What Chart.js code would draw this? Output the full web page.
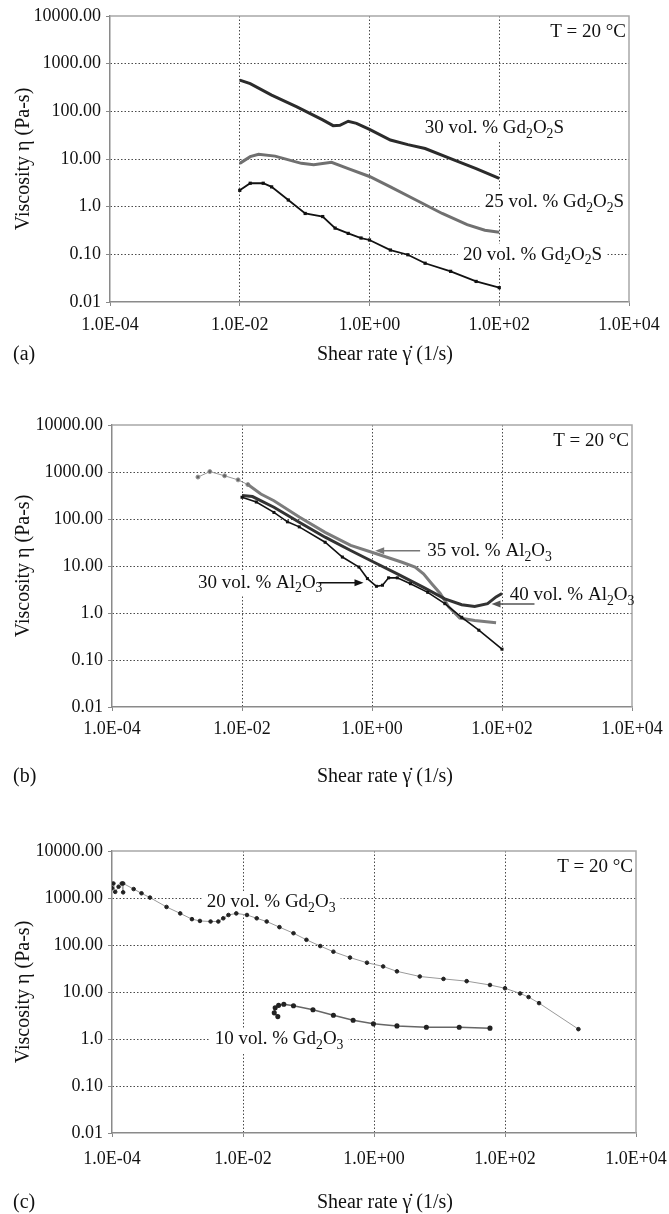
<!DOCTYPE html>
<html>
<head>
<meta charset="utf-8">
<title>Viscosity vs shear rate</title>
<script src="https://cdn.jsdelivr.net/npm/chart.js@4.4.0/dist/chart.umd.min.js"></script>
<style>
    html, body { margin: 0; padding: 0; background: #fff; }
    #page { position: relative; width: 669px; height: 1214px; overflow: hidden; }
    .panel { position: absolute; left: 0; width: 669px; }
</style>
</head>
<body>
<div id="page">
    <div class="panel" style="top:0;height:380px"><canvas id="chartA"></canvas></div>
    <div class="panel" style="top:390px;height:400px"><canvas id="chartB"></canvas></div>
    <div class="panel" style="top:800px;height:414px"><canvas id="chartC"></canvas></div>
</div>
<script>
// Axis ticks (shared by all three panels)
const xTickValues = [1e-4, 1e-2, 1, 1e2, 1e4];
const xTickLabels = ['1.0E-04', '1.0E-02', '1.0E+00', '1.0E+02', '1.0E+04'];
const yTickValues = [0.01, 0.1, 1, 10, 100, 1000, 10000];
const yTickLabels = ['0.01', '0.10', '1.0', '10.00', '100.00', '1000.00', '10000.00'];

// Panel (a) - Gd2O2S, [shear rate, viscosity]
const gd2o2s30 = [[0.01, 450], [0.0145, 380], [0.031, 219], [0.076, 124], [0.19, 66], [0.275, 50],
    [0.35, 51], [0.47, 62], [0.63, 56], [1.0, 42], [2.1, 25], [3.9, 20], [7.2, 16.6], [17.8, 10.2],
    [44, 6.3], [100, 3.9]];
const gd2o2s25 = [[0.01, 8.1], [0.0145, 11.2], [0.0195, 12.6], [0.035, 11.5], [0.089, 8.1], [0.138, 7.6],
    [0.26, 8.5], [0.47, 6.3], [1.0, 4.3], [2.1, 2.6], [5.2, 1.38], [13.2, 0.72], [32, 0.42], [60, 0.32],
    [100, 0.29]];
const gd2o2s20 = [[0.01, 2.2], [0.0145, 3.1], [0.023, 3.1], [0.031, 2.6], [0.056, 1.38], [0.102, 0.72],
    [0.19, 0.62], [0.295, 0.355], [0.47, 0.275], [0.74, 0.22], [1.0, 0.2], [2.1, 0.123], [3.9, 0.098],
    [7.2, 0.065], [17.8, 0.044], [44, 0.027], [100, 0.02]];

// Panel (b) - Al2O3
const al2o3_35start = [[0.0021, 780], [0.0032, 1020], [0.0054, 830], [0.0087, 680], [0.0123, 540]];
const al2o3_35 = [[0.0123, 540], [0.0195, 340], [0.031, 245], [0.076, 110], [0.19, 52], [0.47, 27.5],
    [1.17, 18.2], [2.9, 12], [4.6, 9.5], [6.2, 6.8], [8.3, 4.2], [11.2, 2.6], [15.1, 1.35], [22.4, 0.78],
    [38, 0.69], [81, 0.62]];
const al2o3_40 = [[0.01, 316], [0.0145, 300], [0.031, 178], [0.076, 85], [0.19, 41], [0.47, 21.4],
    [1.0, 12.6], [2.45, 6.8], [6.2, 3.5], [13.2, 2.0], [24, 1.5], [38, 1.38], [60, 1.58], [81, 2.2],
    [100, 2.6]];
const al2o3_30 = [[0.01, 290], [0.0166, 230], [0.031, 138], [0.05, 87], [0.076, 68], [0.19, 32],
    [0.35, 15.5], [0.63, 9.5], [0.85, 5.4], [1.17, 3.7], [1.45, 3.9], [1.8, 5.6], [2.45, 5.6], [3.9, 4.2],
    [7.2, 2.75], [13.2, 1.58], [24, 0.81], [44, 0.43], [100, 0.17]];

// Panel (c) - Gd2O3
const gd2o3_20 = [[0.0001, 1620], [0.000105, 2040], [0.000112, 1350], [0.000126, 1740], [0.000141, 2040],
    [0.000148, 1320], [0.000148, 2040], [0.000214, 1550], [0.000282, 1260], [0.00038, 1020],
    [0.00068, 645], [0.0011, 470], [0.00166, 355], [0.0022, 325], [0.0032, 316], [0.0042, 316],
    [0.005, 370], [0.006, 435], [0.0079, 470], [0.0115, 435], [0.0162, 370], [0.023, 316], [0.036, 240],
    [0.059, 178], [0.093, 129], [0.151, 95], [0.24, 72], [0.43, 54], [0.78, 42], [1.38, 35], [2.24, 27.5],
    [5.0, 21.4], [11.5, 19], [26, 17], [59, 14.1], [100, 12], [170, 9.3], [229, 7.8], [331, 5.8],
    [1320, 1.62]];
const gd2o3_10 = [[0.034, 3.0], [0.03, 3.6], [0.031, 4.6], [0.035, 5.2], [0.042, 5.5], [0.059, 5.1],
    [0.117, 4.2], [0.24, 3.2], [0.48, 2.5], [0.98, 2.1], [2.24, 1.9], [6.3, 1.78], [20, 1.78], [59, 1.7]];

const serif = "'Liberation Serif', 'Times New Roman', serif";

function toXY(arr) {
    return arr.map(p => ({ x: p[0], y: p[1] }));
}

/**
 * Text with one-character subscripts marked by "_" (e.g. "Al_2O_3")
 */
function richParts(str) {
    const parts = [];
    for (let i = 0; i < str.length; i++) {
        if (str[i] === '_') {
            parts.push({ t: str[i + 1], sub: true });
            i++;
        } else {
            parts.push({ t: str[i], sub: false });
        }
    }
    return parts;
}

function richWidth(ctx, str, size) {
    let w = 0;
    richParts(str).forEach(p => {
        ctx.font = (p.sub ? size * 0.72 : size) + 'px ' + serif;
        w += ctx.measureText(p.t).width;
    });
    return w;
}

function drawRich(ctx, str, x, y, size) {
    ctx.textAlign = 'left';
    ctx.textBaseline = 'middle';
    richParts(str).forEach(p => {
        const fs = p.sub ? size * 0.72 : size;
        ctx.font = fs + 'px ' + serif;
        ctx.fillText(p.t, x, p.sub ? y + size * 0.32 : y);
        x += ctx.measureText(p.t).width;
    });
}

/**
 * Frame, curve labels, arrows and titles of one panel
 */
const panelDecor = {
    id: 'panelDecor',
    beforeDatasetsDraw(chart, args, opts) {
        const ctx = chart.ctx;
        const area = chart.chartArea;
        const sx = chart.scales.x, sy = chart.scales.y;
        ctx.save();
        // white boxes behind the labels hide the grid
        ctx.fillStyle = '#fff';
        (opts.labels || []).forEach(l => {
            const x = sx.getPixelForValue(l.x);
            const y = sy.getPixelForValue(l.y);
            ctx.fillRect(x - 5, y - 11, richWidth(ctx, l.text, 19) + 10, 24);
        });
        // top and right side of the frame
        ctx.strokeStyle = '#a8a8a8';
        ctx.lineWidth = 1.5;
        ctx.beginPath();
        ctx.moveTo(area.left, area.top);
        ctx.lineTo(area.right, area.top);
        ctx.lineTo(area.right, area.bottom);
        ctx.stroke();
        ctx.restore();
    },
    afterDraw(chart, args, opts) {
        const ctx = chart.ctx;
        const area = chart.chartArea;
        const sx = chart.scales.x, sy = chart.scales.y;
        ctx.save();
        ctx.fillStyle = '#111';

        (opts.labels || []).forEach(l => {
            drawRich(ctx, l.text, sx.getPixelForValue(l.x), sy.getPixelForValue(l.y), 19);
        });

        (opts.arrows || []).forEach(a => {
            const x1 = sx.getPixelForValue(a.from);
            const x2 = sx.getPixelForValue(a.to);
            const y = sy.getPixelForValue(a.y);
            const dir = x2 > x1 ? 1 : -1;
            ctx.strokeStyle = a.color;
            ctx.fillStyle = a.color;
            ctx.lineWidth = 1.5;
            ctx.beginPath();
            ctx.moveTo(x1, y);
            ctx.lineTo(x2 - dir * 6, y);
            ctx.stroke();
            ctx.beginPath();
            ctx.moveTo(x2, y);
            ctx.lineTo(x2 - dir * 9, y - 3.5);
            ctx.lineTo(x2 - dir * 9, y + 3.5);
            ctx.closePath();
            ctx.fill();
        });

        ctx.fillStyle = '#111';
        ctx.font = '19px ' + serif;
        ctx.textAlign = 'right';
        ctx.textBaseline = 'middle';
        ctx.fillText('T = 20 °C', area.right - 3, area.top + 16);

        // axis titles and panel letter
        ctx.font = '20px ' + serif;
        ctx.textAlign = 'center';
        ctx.fillText('Shear rate \u03B3\u0307 (1/s)', 385, area.bottom + opts.titleOffset);
        ctx.textAlign = 'left';
        ctx.fillText(opts.letter, 13, area.bottom + opts.titleOffset);

        ctx.translate(24, (area.top + area.bottom) / 2);
        ctx.rotate(-Math.PI / 2);
        ctx.textAlign = 'center';
        ctx.fillText('Viscosity \u03B7 (Pa-s)', 0, 0);
        ctx.restore();
    }
};

function gridColor(c) {
    const last = c.scale.ticks.length - 1;
    return (c.index === 0 || c.index === last) ? 'rgba(0,0,0,0)' : '#4a4a4a';
}

function buildChart(id, datasets, layout, decor) {
    const ctx = document.getElementById(id).getContext('2d');
    return new Chart(ctx, {
        type: 'scatter',
        data: { datasets: datasets },
        options: {
            responsive: true,
            maintainAspectRatio: false,
            animation: false,
            events: [],
            layout: { padding: { top: layout.top, right: layout.right, left: 0, bottom: 0 } },
            plugins: {
                legend: { display: false },
                tooltip: { enabled: false },
                panelDecor: decor
            },
            scales: {
                x: {
                    type: 'logarithmic',
                    min: 1e-4,
                    max: 1e4,
                    afterBuildTicks: scale => { scale.ticks = xTickValues.map(v => ({ value: v })); },
                    afterFit: scale => {
                        // fixed plot box: the end labels may hang into the margins
                        scale.height = layout.xHeight;
                        scale.paddingLeft = 0;
                        scale.paddingRight = 0;
                    },
                    ticks: {
                        autoSkip: false,
                        maxRotation: 0,
                        padding: layout.xPad,
                        color: '#111',
                        font: { family: serif, size: 18 },
                        callback: (v, i) => xTickLabels[i]
                    },
                    grid: { color: gridColor, tickColor: '#888', tickLength: 4, lineWidth: 1 },
                    border: { display: true, color: '#8a8a8a', width: 1.5, dash: [1.5, 2] }
                },
                y: {
                    type: 'logarithmic',
                    min: 0.01,
                    max: 10000,
                    afterBuildTicks: scale => { scale.ticks = yTickValues.map(v => ({ value: v })); },
                    afterFit: scale => {
                        scale.width = layout.left;
                        scale.paddingTop = 0;
                        scale.paddingBottom = 0;
                    },
                    ticks: {
                        autoSkip: false,
                        padding: 5,
                        color: '#111',
                        font: { family: serif, size: 18 },
                        callback: (v, i) => yTickLabels[i]
                    },
                    grid: { color: gridColor, tickColor: '#888', tickLength: 4, lineWidth: 1 },
                    border: { display: true, color: '#8a8a8a', width: 1.5, dash: [1.5, 2] }
                }
            }
        },
        plugins: [panelDecor]
    });
}

function series(arr, color, width, extra) {
    return Object.assign({
        data: toXY(arr),
        showLine: true,
        borderColor: color,
        backgroundColor: color,
        borderWidth: width,
        pointRadius: 0,
        tension: 0
    }, extra || {});
}

// (a)
buildChart('chartA', [
    series(gd2o2s30, '#2b2b2b', 3),
    series(gd2o2s25, '#707070', 3),
    series(gd2o2s20, '#111', 1.8, { pointRadius: 1, pointStyle: 'rect' })
], { top: 16, right: 40, left: 110, xHeight: 78, xPad: 8 }, {
    letter: '(a)',
    titleOffset: 53,
    labels: [
        { text: '30 vol. % Gd_2O_2S', x: 7.1, y: 45 },
        { text: '25 vol. % Gd_2O_2S', x: 60, y: 1.26 },
        { text: '20 vol. % Gd_2O_2S', x: 27.5, y: 0.098 }
    ]
});

// (b)
buildChart('chartB', [
    series(al2o3_30, '#111', 1.6, { pointRadius: 1, pointStyle: 'rect' }),
    series(al2o3_40, '#333', 3),
    series(al2o3_35, '#7c7c7c', 3),
    series(al2o3_35start, '#9a9a9a', 1, { pointRadius: 2, backgroundColor: '#666', borderColor: '#999' })
], { top: 35, right: 37, left: 112, xHeight: 83, xPad: 7 }, {
    letter: '(b)',
    titleOffset: 70,
    labels: [
        { text: '35 vol. % Al_2O_3', x: 7.1, y: 21 },
        { text: '30 vol. % Al_2O_3', x: 0.0021, y: 4.4 },
        { text: '40 vol. % Al_2O_3', x: 132, y: 2.4 }
    ],
    arrows: [
        { from: 5.5, to: 1.12, y: 21, color: '#777' },
        { from: 0.15, to: 0.74, y: 4.4, color: '#111' },
        { from: 316, to: 69, y: 1.55, color: '#555' }
    ]
});

// (c)
buildChart('chartC', [
    series(gd2o3_20, '#9a9a9a', 1, { pointRadius: 1.8, backgroundColor: '#222', borderColor: '#9a9a9a',
        pointBorderColor: '#222' }),
    series(gd2o3_10, '#666', 1.5, { pointRadius: 1.8, backgroundColor: '#222', pointBorderColor: '#222' })
], { top: 51, right: 33, left: 112, xHeight: 81, xPad: 11 }, {
    letter: '(c)',
    titleOffset: 70,
    labels: [
        { text: '20 vol. % Gd_2O_3', x: 0.0028, y: 820 },
        { text: '10 vol. % Gd_2O_3', x: 0.0037, y: 1.0 }
    ]
});
</script>
</body>
</html>
